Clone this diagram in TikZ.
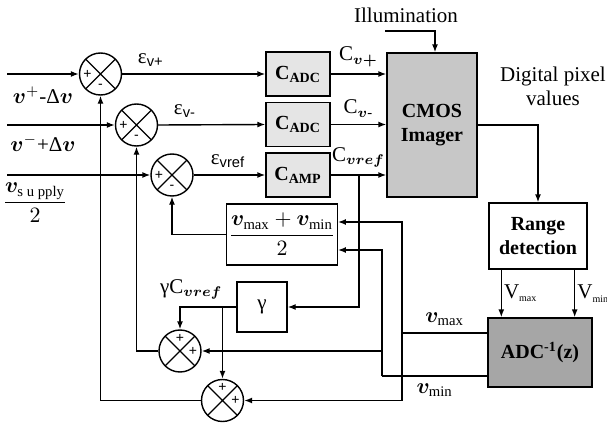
\documentclass[tikz,border=0pt]{standalone}
\usepackage{amsmath}
\usepackage{bm}
\usepackage{fontspec}
\setmainfont{Liberation Serif}
\setsansfont{Liberation Sans}
\usetikzlibrary{arrows.meta}

\tikzset{
  sumnode/.style={circle, draw, minimum size=21pt, inner sep=0pt,
    path picture={\draw (path picture bounding box.north west) -- (path picture bounding box.south east)
      (path picture bounding box.north east) -- (path picture bounding box.south west);}},
  sign/.style={font=\sffamily\scriptsize, inner sep=0pt},
  gainbox/.style={draw, fill=black!10, minimum width=32pt, minimum height=22pt, font=\bfseries},
  plainbox/.style={draw, inner sep=1pt},
}

\begin{document}
\begin{tikzpicture}[x=0.5pt, y=-0.5pt, line width=0.7pt,
    font=\fontsize{10.5}{12}\selectfont, >={Latex[length=4pt,width=3pt]}]
  \useasboundingbox (0,0) rectangle (607,423);

  % Summing junctions
  \node[sumnode] (s1) at (100.5,74) {};
  \node[sumnode] (s2) at (136.5,125) {};
  \node[sumnode] (s3) at (172,175) {};
  \node[sumnode] (s4) at (180,351) {};
  \node[sumnode] (s5) at (222.5,400.5) {};

  % Signs
  \node[sign] (s1p) at ([xshift=-6.5pt]s1.center) {+};
  \node[sign] (s1m) at ([yshift=-6pt]s1.center) {-};
  \node[sign] (s2p) at ([xshift=-6.5pt]s2.center) {+};
  \node[sign] (s2m) at ([yshift=-6pt]s2.center) {-};
  \node[sign] (s3p) at ([xshift=-6.5pt]s3.center) {+};
  \node[sign] (s3m) at ([yshift=-6pt]s3.center) {-};
  \node[sign] (s4t) at ([yshift=6.5pt]s4.center) {+};
  \node[sign] (s4r) at ([xshift=6.5pt]s4.center) {+};
  \node[sign] (s5t) at ([yshift=6.5pt]s5.center) {+};
  \node[sign] (s5r) at ([xshift=6.5pt]s5.center) {+};

  % Gain blocks
  \node[gainbox] (cadc1) at (298,74) {C\textsubscript{ADC}};
  \node[gainbox] (cadc2) at (298,124.5) {C\textsubscript{ADC}};
  \node[gainbox] (camp) at (298,175) {C\textsubscript{AMP}};

  % Imager and back end
  \node[draw, fill=black!22, minimum width=45pt, minimum height=72pt, font=\bfseries, align=center] (cmos) at (432,125) {CMOS\\Imager};
  \node[draw, minimum width=49pt, minimum height=33pt, font=\bfseries, align=center] (range) at (538,236) {Range\\detection};
  \node[draw, fill=black!35, minimum width=52pt, minimum height=34.5pt, font=\bfseries] (adcinv) at (540,352.5) {ADC\textsuperscript{-1}(z)};

  % Mid value and gamma
  \node[plainbox, minimum width=45pt, minimum height=30.5pt] (avg) at (282,234.5)
      {$\dfrac{\boldsymbol{v}_{\text{max}}+\boldsymbol{v}_{\text{min}}}{2}$};
  \node[plainbox, minimum width=25pt, minimum height=25pt] (gamma) at (262,307) {γ};

  % Inputs
  \coordinate (in1) at (7,74);
  \coordinate (in2) at (7,125);
  \coordinate (in3) at (7,175);
  \draw[->] (in1) -- (s1.west);
  \draw[->] (in2) -- (s2.west);
  \draw[->] (in3) -- (s3.west);
  \node (lab1) at (43,95) {$\boldsymbol{v}^{+}$-Δ$\boldsymbol{v}$};
  \node (lab2) at (43,143) {$\boldsymbol{v}^{-}$+Δ$\boldsymbol{v}$};
  \node (lab3) at (35,203) {$\dfrac{\boldsymbol{v}_{\text{s u pply}}}{2}$};

  % Errors into the gain blocks
  \draw[->] (s1.east) -- (cadc1.west) node[pos=0.2, above] (e1) {ε\textsubscript{\sffamily v+}};
  \draw[->] (s2.east) -- (cadc2.west) node[pos=0.25, above] (e2) {ε\textsubscript{\sffamily v-}};
  \draw[->] (s3.east) -- (camp.west) node[pos=0.48, above] (e3) {ε\textsubscript{\sffamily vref}};

  % Gain block outputs
  \draw[->] (cadc1.east) -- (cadc1.east -| cmos.west) node[midway, above] (c1) {C$_{\boldsymbol{v+}}$};
  \draw[->] (cadc2.east) -- (cadc2.east -| cmos.west) node[midway, above] (c2) {C$_{\boldsymbol{v}\text{-}}$};
  \draw[->] (camp.east) -- (camp.east -| cmos.west) node[midway, above] (c3) {C$_{\boldsymbol{vref}}$};

  % C_vref to gamma
  \coordinate (jref) at (359,175);
  \draw[->] (jref) |- (gamma.east);
  \draw[->] (gamma.west) -| (s4.north) node[pos=0.4, above] (gc) {γC$_{\boldsymbol{vref}}$};
  \coordinate (jg) at (gamma.west -| s5.north);
  \draw[->] (jg) -- (s5.north);

  % Feedback to the input junctions
  \draw[->] (avg.west) -| (s3.south);
  \draw[->] (s4.west) -| (s2.south);
  \draw[->] (s5.west) -| (s1.south);

  % Illumination
  \node (illum) at (406,15) {Illumination};
  \coordinate (illin) at (385,31);
  \draw[->] (illin) -| ([xshift=1.5pt]cmos.north);

  % Pixel values to range detection
  \draw[->] (cmos.east) -| (range.north);
  \node[align=center] (pix) at (553,86) {Digital pixel\\values};
  \draw[->] ([xshift=6.5pt]range.south west) -- ([xshift=6.5pt]range.south west |- adcinv.north)
      node[midway, right, inner sep=1pt] (vmx) {V\textsubscript{\tiny max}};
  \draw[->] ([xshift=-6.5pt]range.south east) -- ([xshift=-6.5pt]range.south east |- adcinv.north)
      node[midway, right, inner sep=1pt] (vmn) {V\textsubscript{\tiny min}};

  % Reconstructed v_max
  \coordinate (amax) at ([yshift=9.75pt]adcinv.west);
  \coordinate (jmax) at (402,333);
  \draw (amax) -- (jmax) node[midway, above] (lmax) {$\boldsymbol{v}_{\text{max}}$};
  \coordinate (avgin1) at ([yshift=6.25pt]avg.east);
  \draw[->] (jmax) |- (avgin1);
  \draw[->] (jmax) |- (s5.east);

  % Reconstructed v_min
  \coordinate (amin) at ([yshift=-11.75pt]adcinv.west);
  \coordinate (jmin) at (382,376);
  \draw (amin) -- (jmin) node[midway, below] (lmin) {$\boldsymbol{v}_{\text{min}}$};
  \coordinate (avgin2) at ([yshift=-7.75pt]avg.east);
  \draw[->] (jmin) |- (avgin2);
  \draw[->] (jmin) |- (s4.east);
\end{tikzpicture}
\end{document}
